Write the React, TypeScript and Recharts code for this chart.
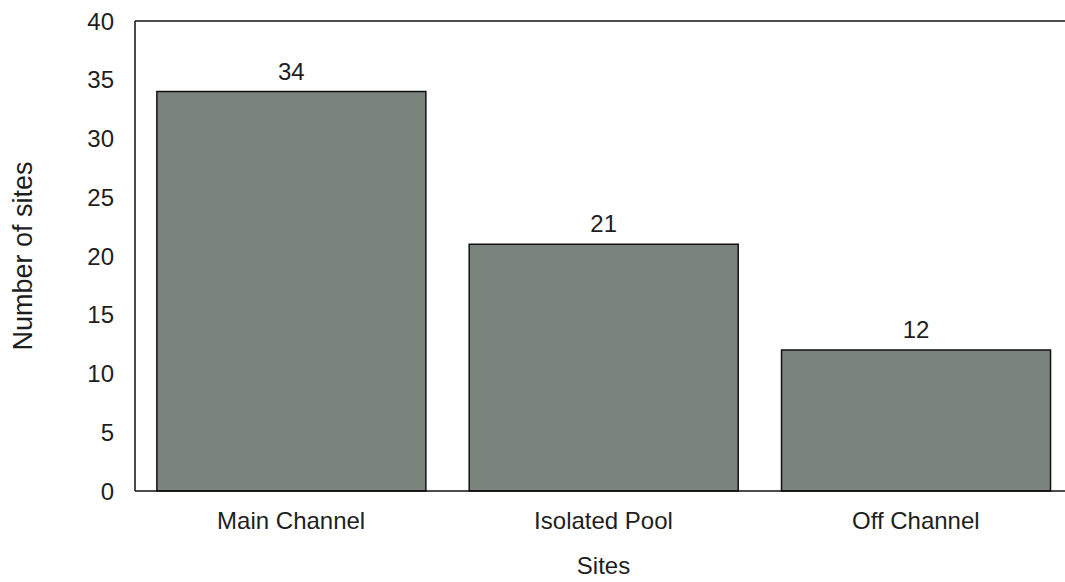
import React from "react";
import {
  BarChart,
  Bar,
  XAxis,
  YAxis,
  LabelList,
  Label,
  ReferenceLine,
} from "recharts";

const sites = ["Main Channel", "Isolated Pool", "Off Channel"];
const counts = [34, 21, 12];
const yTicks = [0, 5, 10, 15, 20, 25, 30, 35, 40];

const data = sites.map((name, i) => ({ name, count: counts[i] }));

const font = "'Liberation Sans', Arial, Helvetica, sans-serif";
const textColor = "#1e1e1e";

// rotated y title, placed by hand next to the axis
function YTitle() {
  return (
    <text
      x={23}
      y={256}
      transform="rotate(-90, 23, 256)"
      textAnchor="middle"
      dominantBaseline="central"
      fontSize={27}
      fill={textColor}
      fontFamily={font}
    >
      Number of sites
    </text>
  );
}

export default function App() {
  return (
    <div
      style={{
        position: "fixed",
        left: 0,
        top: 0,
        width: 1065,
        height: 582,
        overflow: "hidden",
        background: "#fff",
        fontFamily: font,
      }}
    >
      <BarChart
        width={1080}
        height={582}
        data={data}
        margin={{ top: 21, right: 8, left: 0, bottom: 31 }}
        barCategoryGap="7%"
      >
        <XAxis
          dataKey="name"
          height={60}
          axisLine={{ stroke: "#111", strokeWidth: 1.5 }}
          tickLine={false}
          tickSize={0}
          tickMargin={21}
          tick={{ fontSize: 24, fill: textColor, fontFamily: font }}
        >
          <Label
            value="Sites"
            position="bottom"
            offset={6}
            style={{ fontSize: 24, fill: textColor, fontFamily: font }}
          />
        </XAxis>
        <YAxis
          width={135}
          domain={[0, 40]}
          ticks={yTicks}
          interval={0}
          axisLine={{ stroke: "#111", strokeWidth: 1.5 }}
          tickLine={false}
          tickSize={0}
          tickMargin={21}
          tick={{ fontSize: 24, fill: textColor, fontFamily: font }}
        >
          <Label content={<YTitle />} />
        </YAxis>
        <ReferenceLine y={40} stroke="#111" strokeWidth={1.5} />
        <Bar
          dataKey="count"
          fill="#7a837c"
          stroke="#111"
          strokeWidth={1.5}
          isAnimationActive={false}
        >
          <LabelList
            dataKey="count"
            position="top"
            offset={12}
            style={{ fontSize: 24, fill: textColor, fontFamily: font }}
          />
        </Bar>
      </BarChart>
    </div>
  );
}
